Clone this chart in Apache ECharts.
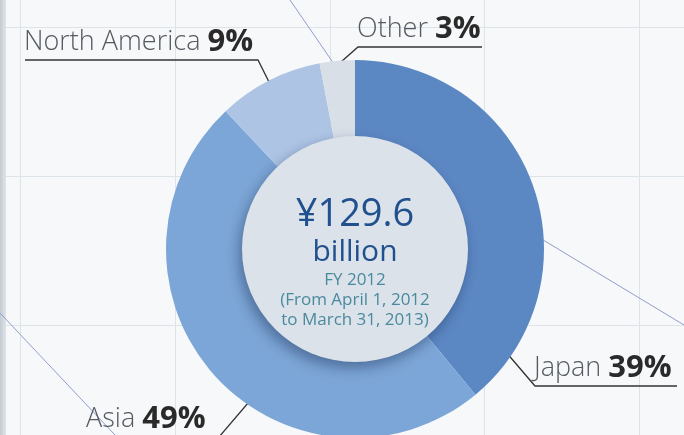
<!DOCTYPE html>
<html>
<head>
<meta charset="utf-8">
<script src="https://cdn.jsdelivr.net/npm/echarts@6/dist/echarts.min.js"></script>
<style>
  html, body { margin: 0; padding: 0; background: #f6f8fa; }
  #main { width: 684px; height: 435px; }
</style>
</head>
<body>
<div id="main"></div>
<script>
var regions = ['Japan', 'Asia', 'North America', 'Other'];
var shares = [39, 49, 9, 3];
var sliceColors = ['#5b87c3', '#7ca6d7', '#adc4e5', '#d8dfe7'];
var totalText = '¥129.6';
var unitText = 'billion';
var periodLines = ['FY 2012', '(From April 1, 2012', 'to March 31, 2013)'];

var dom = document.getElementById('main');
var myChart = echarts.init(dom, null, { renderer: 'canvas' });

// background decoration: grid lines, left strip, thin orbit lines
var deco = [];
[20, 175, 330, 484, 639].forEach(function (x) {
  deco.push({ type: 'line', z: -10, shape: { x1: x + 0.5, y1: 0, x2: x + 0.5, y2: 435 }, style: { stroke: '#dde4e9', lineWidth: 1 } });
});
[27, 176, 325].forEach(function (y) {
  deco.push({ type: 'line', z: -10, shape: { x1: 0, y1: y + 0.5, x2: 684, y2: y + 0.5 }, style: { stroke: '#dde4e9', lineWidth: 1 } });
});
deco.push({
  type: 'rect', z: -9, shape: { x: 0, y: 0, width: 6, height: 435 },
  style: { fill: new echarts.graphic.LinearGradient(0, 0, 1, 0, [
    { offset: 0, color: '#c3cbd2' }, { offset: 1, color: '#dfe5ea' }]) }
});
deco.push({ type: 'line', z: -8, shape: { x1: 290, y1: 0, x2: 345, y2: 80 }, style: { stroke: '#919dcc', lineWidth: 1 } });
deco.push({ type: 'line', z: -8, shape: { x1: 520, y1: 226, x2: 684, y2: 325 }, style: { stroke: '#919dcc', lineWidth: 1 } });
deco.push({ type: 'line', z: -8, shape: { x1: 0, y1: 313, x2: 115, y2: 435 }, style: { stroke: '#919dcc', lineWidth: 1 } });

// where each label sits (line start, elbow, end) and text anchor
var labelSpots = [
  { pts: [[482, 324], [535, 386], [677, 386]], x: 534, y: 385 },
  { pts: [[272, 375], [219, 437], [87, 437]], x: 86, y: 436 },
  { pts: [[273, 90], [258, 60], [25, 60]], x: 24, y: 59 },
  { pts: [[333, 69], [358, 47], [482, 47]], x: 357, y: 46 }
];

var option = {
  backgroundColor: '#f6f8fa',
  animation: false,
  graphic: deco,
  series: [
    {
      type: 'pie',
      center: [355, 249],
      radius: [100, 189],
      startAngle: 90,
      clockwise: true,
      silent: true,
      z: 2,
      data: regions.map(function (r, i) {
        return { name: r, value: shares[i], itemStyle: { color: sliceColors[i] } };
      }),
      itemStyle: { borderWidth: 0 },
      label: {
        show: true,
        overflow: 'none',
        edgeDistance: 0,
        bleedMargin: 0,
        formatter: '{n|{b} }{v|{c}%}',
        rich: {
          n: { fontFamily: 'Open Sans', fontWeight: 300, fontSize: 27, color: '#555a60', lineHeight: 34 },
          v: { fontFamily: 'Open Sans', fontWeight: 'bold', fontSize: 31, color: '#2a2a2a', lineHeight: 34 }
        }
      },
      labelLine: { show: true, lineStyle: { color: '#333', width: 1.3 } },
      labelLayout: function (p) {
        var s = labelSpots[p.dataIndex];
        return {
          x: s.x, y: s.y, align: 'left', verticalAlign: 'bottom',
          labelLinePoints: s.pts
        };
      }
    },
    {
      type: 'pie',
      center: [355, 249],
      radius: [0, 113],
      silent: true,
      z: 3,
      data: [{ name: 'total', value: 1 }],
      itemStyle: {
        color: '#dbe2e9',
        shadowBlur: 14,
        shadowColor: 'rgba(20,40,80,0.45)',
        shadowOffsetX: -3,
        shadowOffsetY: 6
      },
      label: {
        show: true,
        position: 'center',
        padding: [30, 0, 0, 0],
        formatter: '{a|' + totalText + '}\n{b|' + unitText + '}\n' +
          periodLines.map(function (t) { return '{c|' + t + '}'; }).join('\n'),
        rich: {
          a: { fontFamily: 'Open Sans', fontSize: 38, color: '#21508f', lineHeight: 36 },
          b: { fontFamily: 'Open Sans', fontSize: 30, color: '#21508f', lineHeight: 37 },
          c: { fontFamily: 'Open Sans', fontSize: 17, color: '#4a8a9e', lineHeight: 20 }
        }
      },
      labelLine: { show: false }
    }
  ]
};
myChart.setOption(option);
</script>
</body>
</html>
